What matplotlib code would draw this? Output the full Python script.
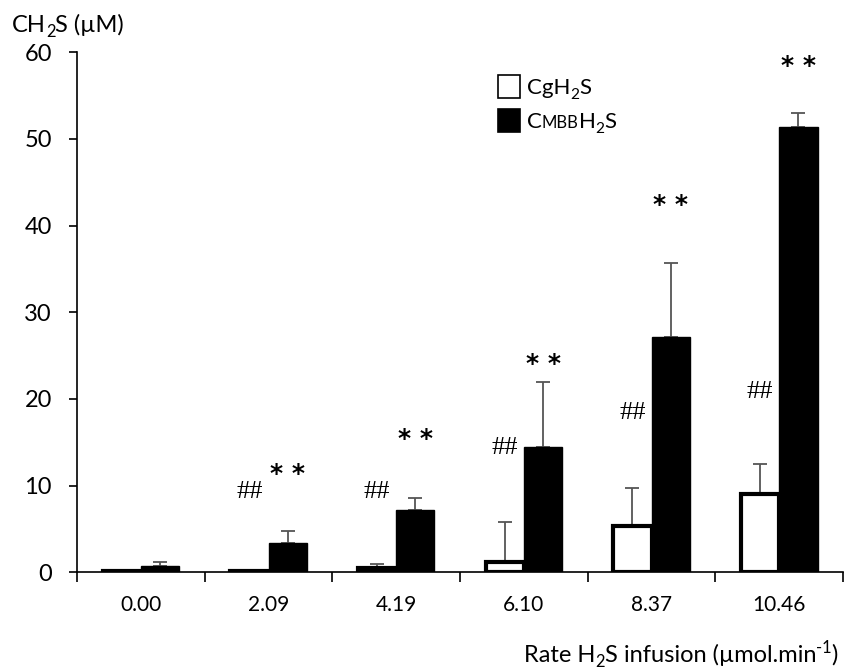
import numpy as np
import matplotlib.pyplot as plt
from matplotlib.patches import Rectangle

plt.rcParams['font.family'] = ['Lato', 'DejaVu Sans']

rates = ['0.00', '2.09', '4.19', '6.10', '8.37', '10.46']
cg_mean = [0.2, 0.2, 0.5, 1.2, 5.3, 9.0]
cg_err = [0.0, 0.0, 0.5, 4.6, 4.4, 3.5]
cmbb_mean = [0.7, 3.4, 7.2, 14.5, 27.2, 51.4]
cmbb_err = [0.5, 1.4, 1.4, 7.4, 8.5, 1.6]
hash_y = [None, 9.6, 9.6, 14.6, 18.7, 21.1]
star_y = [None, 12.1, 16.2, 24.8, 43.2, 59.2]

x = np.arange(len(rates))
w = 0.3

fig = plt.figure(figsize=(8.49, 6.69), dpi=100)
ax = fig.add_axes([0.0907, 0.1445, 0.9023, 0.7775])

ax.bar(x - w / 2, cg_mean, w, color='white', edgecolor='black', linewidth=3, zorder=2)
ax.bar(x + w / 2, cmbb_mean, w, color='black', edgecolor='black', linewidth=1, zorder=2)
ax.errorbar(x - w / 2, cg_mean, yerr=[np.zeros(6), cg_err], fmt='none',
            ecolor='#555555', elinewidth=1.3, capsize=5, capthick=1.3, zorder=1)
ax.errorbar(x + w / 2, cmbb_mean, yerr=[np.zeros(6), cmbb_err], fmt='none',
            ecolor='#555555', elinewidth=1.3, capsize=5, capthick=1.3, zorder=1)

for i in range(len(rates)):
    if hash_y[i] is not None:
        ax.text(x[i] - w / 2, hash_y[i] - 1.0, '##', ha='center', va='baseline',
                fontsize=19, family='Liberation Serif')
    if star_y[i] is not None:
        ax.text(x[i] + w / 2, star_y[i] - 1.6, '* *', ha='center', va='baseline',
                fontsize=18, family='DejaVu Sans', fontweight='bold')

ax.set_xlim(-0.5, 5.5)
ax.set_ylim(0, 60)
ax.set_yticks(range(0, 61, 10))
ax.set_xticks(x)
ax.set_xticklabels(rates)
ax.set_xticks(np.arange(-0.5, 6, 1), minor=True)
ax.tick_params(axis='x', which='major', length=0, pad=16, labelsize=15)
ax.tick_params(axis='x', which='minor', length=7, width=1.2, direction='out')
ax.tick_params(axis='y', length=6, width=1.2, pad=12, labelsize=17)
for s in ['top', 'right']:
    ax.spines[s].set_visible(False)
for s in ['left', 'bottom']:
    ax.spines[s].set_linewidth(1.2)

renderer = fig.canvas.get_renderer()


def put_pieces(x0, y0, pieces, size, ha='left'):
    # pieces: (text, relative size, shift in em)
    texts = []
    xx = x0
    for s, rel, dy in pieces:
        fs = size * rel
        t = fig.text(xx, y0 + dy * size / 72 / fig.get_figheight(), s,
                     fontsize=fs, va='baseline', ha='left')
        bb = t.get_window_extent(renderer)
        xx += bb.width / fig.bbox.width
        texts.append(t)
    if ha == 'right':
        shift = xx - x0
        for t in texts:
            px, py = t.get_position()
            t.set_position((px - shift, py))
    return texts


sub = 0.7
put_pieces(12 / 849, 1 - 32 / 669,
           [('CH', 1, 0), ('2', sub, -0.22), ('S (µM)', 1, 0)], 17)
put_pieces(838 / 849, 1 - 662 / 669,
           [('Rate H', 1, 0), ('2', sub, -0.22), ('S infusion (µmol.min', 1, 0),
            ('-1', sub, 0.38), (')', 1, 0)], 17, ha='right')

# legend drawn by hand
fig.patches.append(Rectangle((498 / 849, 1 - 98 / 669), 22 / 849, 23 / 669,
                             facecolor='white', edgecolor='black', lw=1.2,
                             transform=fig.transFigure))
fig.patches.append(Rectangle((498 / 849, 1 - 132 / 669), 22 / 849, 23 / 669,
                             facecolor='black', edgecolor='black', lw=1.2,
                             transform=fig.transFigure))
put_pieces(527 / 849, 1 - 94 / 669,
           [('CgH', 1, 0), ('2', sub, -0.22), ('S', 1, 0)], 16)
put_pieces(527 / 849, 1 - 128 / 669,
           [('C', 1, 0), ('MBB', 0.75, 0), ('H', 1, 0), ('2', sub, -0.22), ('S', 1, 0)], 16)

fig.savefig('out.png', dpi=100)
